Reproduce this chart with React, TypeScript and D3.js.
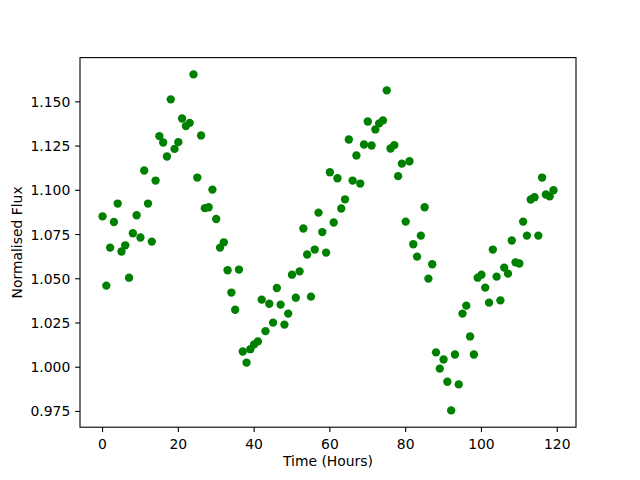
import React from "react";
import * as d3 from "d3";

const hours: number[] = Array.from({ length: 120 }, (_, i) => i);
const flux: number[] = [
  1.0853, 1.0461, 1.0676, 1.0821, 1.0925, 1.0654, 1.0689, 1.0506, 1.0757, 1.0859,
  1.0733, 1.1112, 1.0925, 1.071, 1.1055, 1.1306, 1.127, 1.1191, 1.1514, 1.1234,
  1.1272, 1.1406, 1.1363, 1.1381, 1.1655, 1.1072, 1.131, 1.0899, 1.0904, 1.1004,
  1.0838, 1.0676, 1.0706, 1.0548, 1.0422, 1.0325, 1.0552, 1.0089, 1.0026, 1.0102,
  1.0129, 1.0146, 1.0382, 1.0204, 1.0359, 1.0252, 1.0448, 1.0354, 1.0241, 1.0303,
  1.0523, 1.0393, 1.0542, 1.0784, 1.0637, 1.0399, 1.0665, 1.0874, 1.0764, 1.0648,
  1.1102, 1.0818, 1.1068, 1.0897, 1.0949, 1.1287, 1.1055, 1.1197, 1.1038, 1.1259,
  1.1389, 1.1253, 1.1344, 1.1378, 1.1395, 1.1565, 1.1236, 1.1255, 1.108, 1.1151,
  1.0823, 1.1164, 1.0695, 1.0625, 1.0744, 1.0904, 1.0501, 1.0582, 1.0084, 0.9992,
  1.0044, 0.9918, 0.9756, 1.0072, 0.9903, 1.0303, 1.0348, 1.0174, 1.0072, 1.0506,
  1.0523, 1.045, 1.0365, 1.0665, 1.0512, 1.0378, 1.0563, 1.0529, 1.0716, 1.0593,
  1.0586, 1.0823, 1.0744, 1.0948, 1.0961, 1.0744, 1.1072, 1.0976, 1.0966, 1.1,
];
const xTicks: number[] = [0, 20, 40, 60, 80, 100, 120];
const yTicks: number[] = [0.975, 1.0, 1.025, 1.05, 1.075, 1.1, 1.125, 1.15];
const xLabel = "Time (Hours)";
const yLabel = "Normalised Flux";

const W = 640;
const H = 480;
const left = 80;
const right = 576;
const top = 57.6;
const bottom = 427.2;
const font = "DejaVu Sans, sans-serif";
const fs = 13.9;
const tickLen = 4.86;

function padDomain(vals: number[]): [number, number] {
  const [mn, mx] = d3.extent(vals) as [number, number];
  const s = mx - mn;
  return [mn - 0.05 * s, mx + 0.05 * s];
}

export default function App() {
  const x = d3.scaleLinear().domain(padDomain(hours)).range([left, right]);
  const y = d3.scaleLinear().domain(padDomain(flux)).range([bottom, top]);
  const fmtY = d3.format(".3f");

  return (
    <svg
      width={W}
      height={H}
      style={{ position: "absolute", left: 0, top: 0, background: "#fff" }}
      fontFamily={font}
    >
      <rect x={0} y={0} width={W} height={H} fill="#fff" />
      <g>
        {hours.map((h, i) => (
          <circle key={i} cx={x(h)} cy={y(flux[i])} r={4.17} fill="#008000" />
        ))}
      </g>
      <rect
        x={left}
        y={top}
        width={right - left}
        height={bottom - top}
        fill="none"
        stroke="#000"
        strokeWidth={1.1}
      />
      {xTicks.map((t) => (
        <g key={"x" + t}>
          <line x1={x(t)} x2={x(t)} y1={bottom} y2={bottom + tickLen} stroke="#000" strokeWidth={1.1} />
          <text x={x(t)} y={bottom + 21.3} textAnchor="middle" fontSize={fs} fill="#000">
            {t}
          </text>
        </g>
      ))}
      {yTicks.map((t) => (
        <g key={"y" + t}>
          <line x1={left - tickLen} x2={left} y1={y(t)} y2={y(t)} stroke="#000" strokeWidth={1.1} />
          <text x={left - 2 * tickLen} y={y(t) + 5} textAnchor="end" fontSize={fs} fill="#000">
            {fmtY(t)}
          </text>
        </g>
      ))}
      <text x={(left + right) / 2} y={466} textAnchor="middle" fontSize={fs} fill="#000">
        {xLabel}
      </text>
      <text
        transform={`translate(22, ${(top + bottom) / 2}) rotate(-90)`}
        textAnchor="middle"
        fontSize={fs}
        fill="#000"
      >
        {yLabel}
      </text>
    </svg>
  );
}
